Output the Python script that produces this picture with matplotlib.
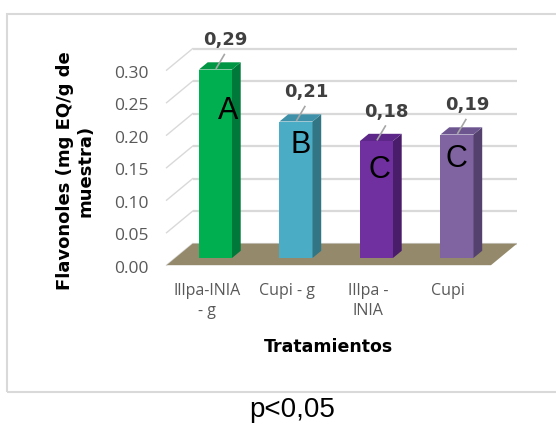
import matplotlib
matplotlib.use("Agg")
import matplotlib.pyplot as plt
from matplotlib.patches import Polygon, Rectangle

# ---- data ----
categories = ["Illpa-INIA\n- g", "Cupi - g", "Illpa -\nINIA", "Cupi"]
values = [0.29, 0.21, 0.18, 0.19]
letters = ["A", "B", "C", "C"]
yticks = [0.00, 0.05, 0.10, 0.15, 0.20, 0.25, 0.30]
y_title = "Flavonoles (mg EQ/g de\nmuestra)"
x_title = "Tratamientos"
note = "p<0,05"

# ---- styling ----
front_colors = ["#00B050", "#4BACC6", "#7030A0", "#8064A2"]
side_colors = ["#00783A", "#327584", "#4A1D6B", "#54416E"]
top_colors = ["#009643", "#3E91A8", "#5C2788", "#6D5690"]
floor_color = "#948A6B"
grid_color = "#D9D9D9"
tick_color = "#595959"
label_color = "#404040"

# letter placement (x, baseline y) in data units
letter_pos = [(0.155, 0.214), (1.062, 0.1615), (2.031, 0.123), (2.988, 0.140)]

W, H = 556, 425
fig = plt.figure(figsize=(W / 100, H / 100), dpi=100)

# chart area frame (open on the right)
fig.patches.append(Rectangle((7 / W, (H - 392) / H), 1.2, (392 - 14) / H,
                             transform=fig.transFigure, fill=False,
                             edgecolor=grid_color, lw=1.5))

x_lo, x_hi = -0.5, 3.53
px_per_x = 80.5
px_per_y = 650.0
left_px = 215.5 + x_lo * px_per_x
zero_px = 258.0
ax = fig.add_axes([left_px / W, (H - zero_px) / H,
                   (x_hi - x_lo) * px_per_x / W, 0.30 * px_per_y / H])
ax.set_xlim(x_lo, x_hi)
ax.set_ylim(0, 0.30)
ax.axis("off")

# depth step of the pseudo-3D box (one third of the floor depth)
ddx = 8.7 / px_per_x
ddy = 7.2 / px_per_y

# back wall gridlines and side-wall diagonals
for v in yticks:
    ax.plot([x_lo + 2 * ddx, x_hi + 2 * ddx], [v + 2 * ddy, v + 2 * ddy],
            color=grid_color, lw=1.6, clip_on=False, zorder=1, solid_capstyle="butt")
    ax.plot([x_lo - ddx, x_lo + 2 * ddx], [v - ddy, v + 2 * ddy],
            color=grid_color, lw=1.0, clip_on=False, zorder=1)
    ax.annotate(f"{v:.2f}", xy=(x_lo - ddx, v - ddy), xytext=(-13, -2.5),
                textcoords="offset points", ha="right", va="center",
                fontsize=12.5, color=tick_color, family="Open Sans",
                annotation_clip=False)

# floor
floor = Polygon([(x_lo - ddx, -ddy), (x_hi - ddx, -ddy),
                 (x_hi + 2 * ddx, 2 * ddy), (x_lo + 2 * ddx, 2 * ddy)],
                closed=True, facecolor=floor_color, edgecolor="none",
                clip_on=False, zorder=2)
ax.add_patch(floor)

# bars
bw = 0.41
xs = list(range(len(values)))
ax.bar(xs, values, width=bw, color=front_colors, zorder=3, clip_on=False)
for x, v, sc, tc in zip(xs, values, side_colors, top_colors):
    r = x + bw / 2
    l = x - bw / 2
    ax.add_patch(Polygon([(r, 0), (r + ddx, ddy), (r + ddx, v + ddy), (r, v)],
                         closed=True, facecolor=sc, edgecolor="none",
                         clip_on=False, zorder=3))
    ax.add_patch(Polygon([(l, v), (r, v), (r + ddx, v + ddy), (l + ddx, v + ddy)],
                         closed=True, facecolor=tc, edgecolor="none",
                         clip_on=False, zorder=3))
    # leader line and value label
    ax.plot([x + 0.01, x + 0.11], [v + 0.002, v + 0.023], color="#A6A6A6",
            lw=1.2, clip_on=False, zorder=4)
    ax.text(x + 0.125, v + 0.037, f"{v:.2f}".replace(".", ","),
            ha="center", va="baseline", fontsize=13, fontweight="bold",
            color=label_color, family="DejaVu Sans", clip_on=False, zorder=5)

# significance letters
for (lx, ly), s in zip(letter_pos, letters):
    ax.text(lx, ly, s, ha="center", va="baseline", fontsize=22,
            family="Liberation Sans", color="black", zorder=5)

# category labels along the front edge of the floor
for x, c in zip(xs, categories):
    ax.annotate(c, xy=(x - ddx, -ddy), xytext=(0, -12.5),
                textcoords="offset points", ha="center", va="top",
                fontsize=11.5, color=tick_color, family="Open Sans",
                linespacing=1.4, annotation_clip=False)

# axis titles
fig.text(329 / W, 1 - 347 / H, x_title, ha="center", va="center",
         fontsize=12.5, fontweight="bold", family="DejaVu Sans")
fig.text(75 / W, 1 - 171 / H, y_title, ha="center", va="center",
         rotation=90, fontsize=13, fontweight="bold", family="DejaVu Sans",
         multialignment="center", linespacing=1.2)

# significance note under the chart
fig.text(292 / W, 1 - 410 / H, note, ha="center", va="center",
         fontsize=20, family="Liberation Sans")

fig.savefig("out.png", dpi=100)
